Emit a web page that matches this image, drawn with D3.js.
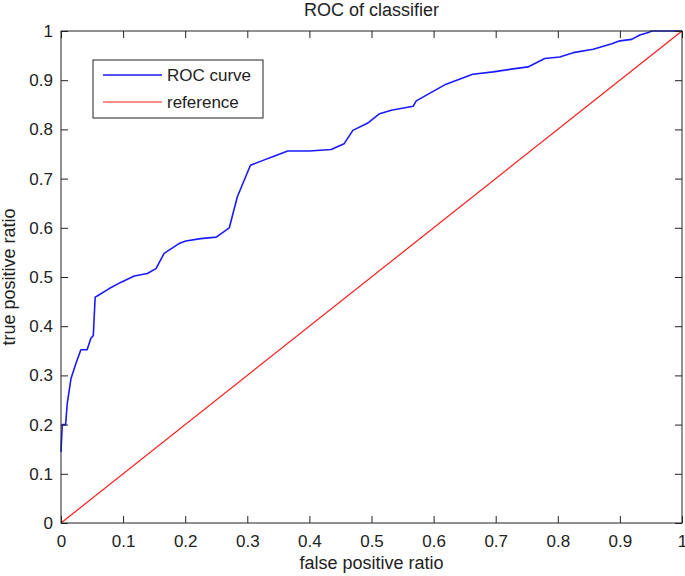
<!DOCTYPE html>
<html>
<head>
<meta charset="utf-8">
<script src="https://cdn.jsdelivr.net/npm/d3@7"></script>
<style>
  html, body { margin: 0; padding: 0; background: #fff; }
  svg { display: block; font-family: "Liberation Sans", Arial, sans-serif; }
</style>
</head>
<body>
<svg id="chart" width="685" height="576"></svg>
<script>
// ROC curve points (false positive ratio, true positive ratio)
const fpr = [0, 0.002, 0.0075, 0.01, 0.016, 0.024, 0.032, 0.042, 0.048, 0.052, 0.055, 0.059, 0.077, 0.096, 0.118, 0.139, 0.153, 0.166, 0.19, 0.201, 0.225, 0.25, 0.271, 0.284, 0.305, 0.319, 0.346, 0.365, 0.4, 0.435, 0.456, 0.47, 0.494, 0.513, 0.532, 0.567, 0.572, 0.62, 0.663, 0.696, 0.728, 0.752, 0.779, 0.803, 0.825, 0.857, 0.887, 0.9, 0.919, 0.932, 0.946, 0.951, 1];
const tpr = [0.144, 0.2, 0.2, 0.242, 0.293, 0.324, 0.352, 0.352, 0.375, 0.381, 0.459, 0.462, 0.476, 0.489, 0.502, 0.507, 0.517, 0.548, 0.568, 0.573, 0.578, 0.581, 0.600, 0.663, 0.727, 0.734, 0.747, 0.756, 0.756, 0.759, 0.771, 0.798, 0.813, 0.832, 0.839, 0.847, 0.858, 0.892, 0.912, 0.917, 0.923, 0.927, 0.944, 0.947, 0.956, 0.963, 0.974, 0.98, 0.983, 0.992, 0.997, 1, 1];
// reference diagonal
const refX = [0, 1];
const refY = [0, 1];
const tickValues = [0, 0.1, 0.2, 0.3, 0.4, 0.5, 0.6, 0.7, 0.8, 0.9, 1];
const seriesNames = ["ROC curve", "reference"];
const seriesColors = ["#1a1aff", "#ff1a1a"];
const titleText = "ROC of classifier";
const xLabelText = "false positive ratio";
const yLabelText = "true positive ratio";

(function () {
const svg = d3.select("#chart");
const pL = 61, pR = 682, pT = 31, pB = 523;
const x = d3.scaleLinear().domain([0, 1]).range([pL, pR]);
const y = d3.scaleLinear().domain([0, 1]).range([pB, pT]);
const fmt = d => d === 0 ? "0" : d === 1 ? "1" : d3.format(".1f")(d);

// lines
const line = d3.line().x(d => x(d[0])).y(d => y(d[1]));
svg.append("path")
  .datum(refX.map((v, i) => [v, refY[i]]))
  .attr("d", line).attr("fill", "none")
  .attr("stroke", seriesColors[1]).attr("stroke-width", 1.2);
svg.append("path")
  .datum(fpr.map((v, i) => [v, tpr[i]]))
  .attr("d", line).attr("fill", "none")
  .attr("stroke", seriesColors[0]).attr("stroke-width", 1.6)
  .attr("stroke-linejoin", "round");

// axes (ticks inward, on all four sides)
const tickLen = 7;
function styleAxis(g) {
  g.select(".domain").remove();
  g.selectAll(".tick line").attr("stroke", "#222").attr("stroke-width", 1);
  g.selectAll(".tick text").attr("fill", "#222").style("font-size", "17px");
}
svg.append("g").attr("transform", `translate(0,${pB})`)
  .call(d3.axisBottom(x).tickValues(tickValues).tickFormat(fmt).tickSizeInner(-tickLen).tickSizeOuter(0).tickPadding(12))
  .call(styleAxis);
svg.append("g").attr("transform", `translate(0,${pT})`)
  .call(d3.axisTop(x).tickValues(tickValues).tickFormat("").tickSizeInner(-tickLen).tickSizeOuter(0))
  .call(styleAxis);
svg.append("g").attr("transform", `translate(${pL},0)`)
  .call(d3.axisLeft(y).tickValues(tickValues).tickFormat(fmt).tickSizeInner(-tickLen).tickSizeOuter(0).tickPadding(8))
  .call(styleAxis);
svg.append("g").attr("transform", `translate(${pR},0)`)
  .call(d3.axisRight(y).tickValues(tickValues).tickFormat("").tickSizeInner(-tickLen).tickSizeOuter(0))
  .call(styleAxis);

// frame
svg.append("rect").attr("x", pL).attr("y", pT)
  .attr("width", pR - pL).attr("height", pB - pT)
  .attr("fill", "none").attr("stroke", "#222").attr("stroke-width", 1);

// title and labels
svg.append("text").attr("x", (pL + pR) / 2).attr("y", 16)
  .attr("text-anchor", "middle").style("font-size", "18px").attr("fill", "#222").text(titleText);
svg.append("text").attr("x", (pL + pR) / 2).attr("y", 569)
  .attr("text-anchor", "middle").style("font-size", "18px").attr("fill", "#222").text(xLabelText);
svg.append("text").attr("transform", `translate(15,${(pT + pB) / 2}) rotate(-90)`)
  .attr("text-anchor", "middle").style("font-size", "18px").attr("fill", "#222").text(yLabelText);

// legend
const lg = svg.append("g");
lg.append("rect").attr("x", 93).attr("y", 60).attr("width", 170).attr("height", 58)
  .attr("fill", "#fff").attr("stroke", "#222").attr("stroke-width", 1);
seriesNames.forEach((name, i) => {
  const ly = 75 + i * 27;
  lg.append("line").attr("x1", 103).attr("x2", 162).attr("y1", ly).attr("y2", ly)
    .attr("stroke", seriesColors[i]).attr("stroke-width", i === 0 ? 1.6 : 1.2);
  lg.append("text").attr("x", 167).attr("y", ly + 6)
    .style("font-size", "17px").attr("fill", "#222").text(name);
});
})();
</script>
</body>
</html>
